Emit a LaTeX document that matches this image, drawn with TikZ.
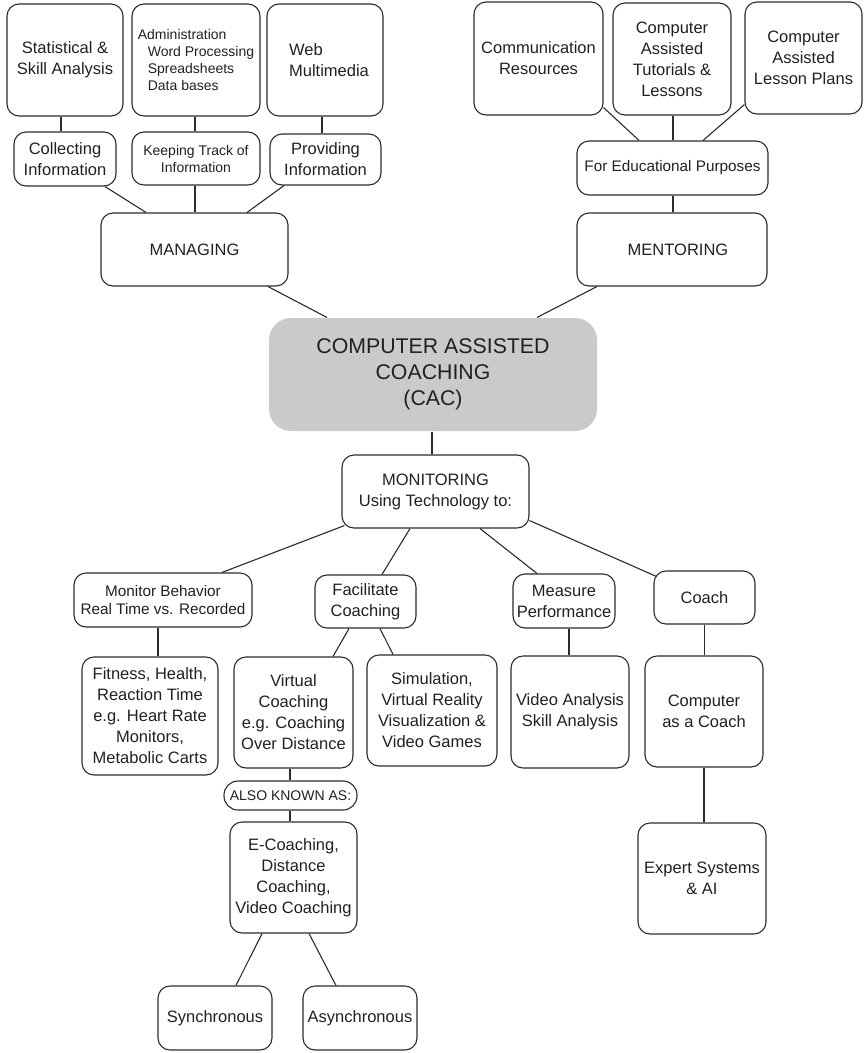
\documentclass[tikz,border=0pt]{standalone}
\usepackage{fontspec}
\setmainfont{Liberation Sans}
\definecolor{inkc}{HTML}{231F20}
\definecolor{linec}{HTML}{2B2B2B}
\definecolor{hubfill}{HTML}{C9CACC}
\newcommand{\txtA}{\fontsize{16.5}{21}\selectfont}
\newcommand{\txtB}{\fontsize{15.3}{18.5}\selectfont}
\newcommand{\txtC}{\fontsize{14}{17}\selectfont}
\newcommand{\txtH}{\fontsize{21.3}{26}\selectfont}
\begin{document}
\begin{tikzpicture}[x=1pt,y=-1pt,
  box/.style={draw=linec, line width=1.1pt, rounded corners=12pt, inner sep=0pt,
    align=center, font=\txtA, text=inkc},
  link/.style={draw=linec, line width=1.1pt}]
\useasboundingbox (0,0) rectangle (863,1053);

% ---- managing branch
\node[box, minimum width=116, minimum height=112] (stat) at (65,60) {Statistical \&\\Skill Analysis};
\node[box, minimum width=128, minimum height=112, align=left, font=\txtC] (admin) at (196,60)
  {Administration\\\hspace*{10pt}Word Processing\\\hspace*{10pt}Spreadsheets\\\hspace*{10pt}Data bases};
\node[box, minimum width=116, minimum height=112, align=left] (web) at (325,60) {\hspace*{8pt}Web\\\hspace*{8pt}Multimedia};
\node[box, minimum width=102, minimum height=54] (collect) at (65,159) {Collecting\\Information};
\node[box, minimum width=128, minimum height=53, font=\txtC] (keep) at (196,158.5) {Keeping Track of\\Information};
\node[box, minimum width=111, minimum height=51] (provide) at (325.5,159.5) {Providing\\Information};
\node[box, minimum width=187, minimum height=73] (managing) at (194.5,249.5) {MANAGING};

% ---- mentoring branch
\node[box, minimum width=129, minimum height=113] (comm) at (538.5,58.5) {Communication\\Resources};
\node[box, minimum width=118, minimum height=112] (tutor) at (672,59) {Computer\\Assisted\\Tutorials \&\\Lessons};
\node[box, minimum width=117, minimum height=112] (lesson) at (803.5,58) {Computer\\Assisted\\Lesson Plans};
\node[box, minimum width=191, minimum height=54, font=\txtB] (edu) at (672.5,168) {For Educational Purposes};
\node[box, minimum width=190, minimum height=73] (mentor) at (672,249.5) {\hspace*{12pt}MENTORING};

% ---- hub
\node[box, fill=hubfill, draw=none, rounded corners=22pt, minimum width=328, minimum height=113, font=\txtH] (cac) at (433,374.5)
  {COMPUTER ASSISTED\\COACHING\\(CAC)};

% ---- monitoring branch
\node[box, minimum width=187, minimum height=73] (monitor) at (435.5,491.5) {MONITORING\\Using Technology to:};
\node[box, minimum width=178, minimum height=54, font=\txtB] (behav) at (163,600) {Monitor Behavior\\Real Time vs. Recorded};
\node[box, minimum width=101, minimum height=53] (facil) at (365.5,601.5) {Facilitate\\Coaching};
\node[box, minimum width=102, minimum height=54] (measure) at (564,601) {Measure\\Performance};
\node[box, minimum width=101, minimum height=53] (coach) at (704.5,597.5) {Coach};

\node[box, minimum width=136, minimum height=118] (fitness) at (150,716)
  {Fitness, Health,\\Reaction Time\\e.g. Heart Rate\\Monitors,\\Metabolic Carts};
\node[box, minimum width=119, minimum height=111] (virtual) at (293.5,712.5)
  {Virtual\\Coaching\\e.g. Coaching\\Over Distance};
\node[box, minimum width=130, minimum height=111] (simul) at (432,710.5)
  {Simulation,\\Virtual Reality\\Visualization \&\\Video Games};
\node[box, minimum width=118, minimum height=112] (video) at (570,712) {Video Analysis\\Skill Analysis};
\node[box, minimum width=118, minimum height=111] (compcoach) at (704,711.5) {Computer\\as a Coach};
\node[box, minimum width=128, minimum height=111] (expert) at (702,878.5) {Expert Systems\\\& AI};

\node[box, rounded corners=14pt, minimum width=133, minimum height=29, font=\txtC] (also) at (290.5,795.5) {ALSO KNOWN AS:};
\node[box, minimum width=127, minimum height=111] (ecoach) at (293.5,877.5)
  {E-Coaching,\\Distance\\Coaching,\\Video Coaching};
\node[box, minimum width=114, minimum height=64] (sync) at (215,1018) {Synchronous};
\node[box, minimum width=114, minimum height=64] (async) at (360,1018) {Asynchronous};

% ---- connectors: managing
\draw[link] ([xshift=-4]stat.south) -- ([xshift=-4]stat.south |- collect.north);
\draw[link] ([xshift=-1]admin.south) -- ([xshift=-1]admin.south |- keep.north);
\draw[link] ([xshift=-3]web.south) -- ([xshift=-3]web.south |- provide.north);
\draw[link] ([xshift=40]collect.south) -- ([xshift=-48.5]managing.north);
\draw[link] ([xshift=-1]keep.south) -- ([xshift=-1]keep.south |- managing.north);
\draw[link] ([xshift=-41.5]provide.south) -- ([xshift=52.5]managing.north);
\draw[link] ([xshift=73.5]managing.south) -- ([xshift=-106]cac.north);

% ---- connectors: mentoring
\draw[link] ([yshift=8]comm.south east) -- ([xshift=-33.5]edu.north);
\draw[link] ([xshift=1]tutor.south) -- ([xshift=1]tutor.south |- edu.north);
\draw[link] ([yshift=10]lesson.south west) -- ([xshift=30.5]edu.north);
\draw[link] ([xshift=0.5]edu.south) -- ([xshift=0.5]edu.south |- mentor.north);
\draw[link] ([xshift=-75]mentor.south) -- ([xshift=104]cac.north);

% ---- connectors: monitoring
\draw[link] ([xshift=-1]cac.south) -- ([xshift=-1]cac.south |- monitor.north);
\draw[link] ([xshift=3,yshift=3]monitor.south west) -- ([xshift=59]behav.north);
\draw[link] ([xshift=-25.5]monitor.south) -- ([xshift=16.5]facil.north);
\draw[link] ([xshift=44.5]monitor.south) -- ([xshift=-27]measure.north);
\draw[link] ([yshift=8]monitor.south east) -- ([xshift=3,yshift=-6]coach.north west);
\draw[link] ([xshift=-5]behav.south) -- ([xshift=-5]behav.south |- fitness.north);
\draw[link] ([xshift=-16.5]facil.south) -- ([xshift=39.5]virtual.north);
\draw[link] ([xshift=14.5]facil.south) -- ([xshift=-39]simul.north);
\draw[link] ([xshift=5]measure.south) -- ([xshift=5]measure.south |- video.north);
\draw[link] (coach.south) -- (coach.south |- compcoach.north);
\draw[link] (compcoach.south) -- (compcoach.south |- expert.north);
\draw[link] ([xshift=-3.5]virtual.south) -- ([xshift=-3.5]virtual.south |- also.north);
\draw[link] ([xshift=-0.5]also.south) -- ([xshift=-0.5]also.south |- ecoach.north);
\draw[link] ([xshift=-31.5]ecoach.south) -- ([xshift=21]sync.north);
\draw[link] ([xshift=15.5]ecoach.south) -- ([xshift=-24]async.north);
\end{tikzpicture}
\end{document}
